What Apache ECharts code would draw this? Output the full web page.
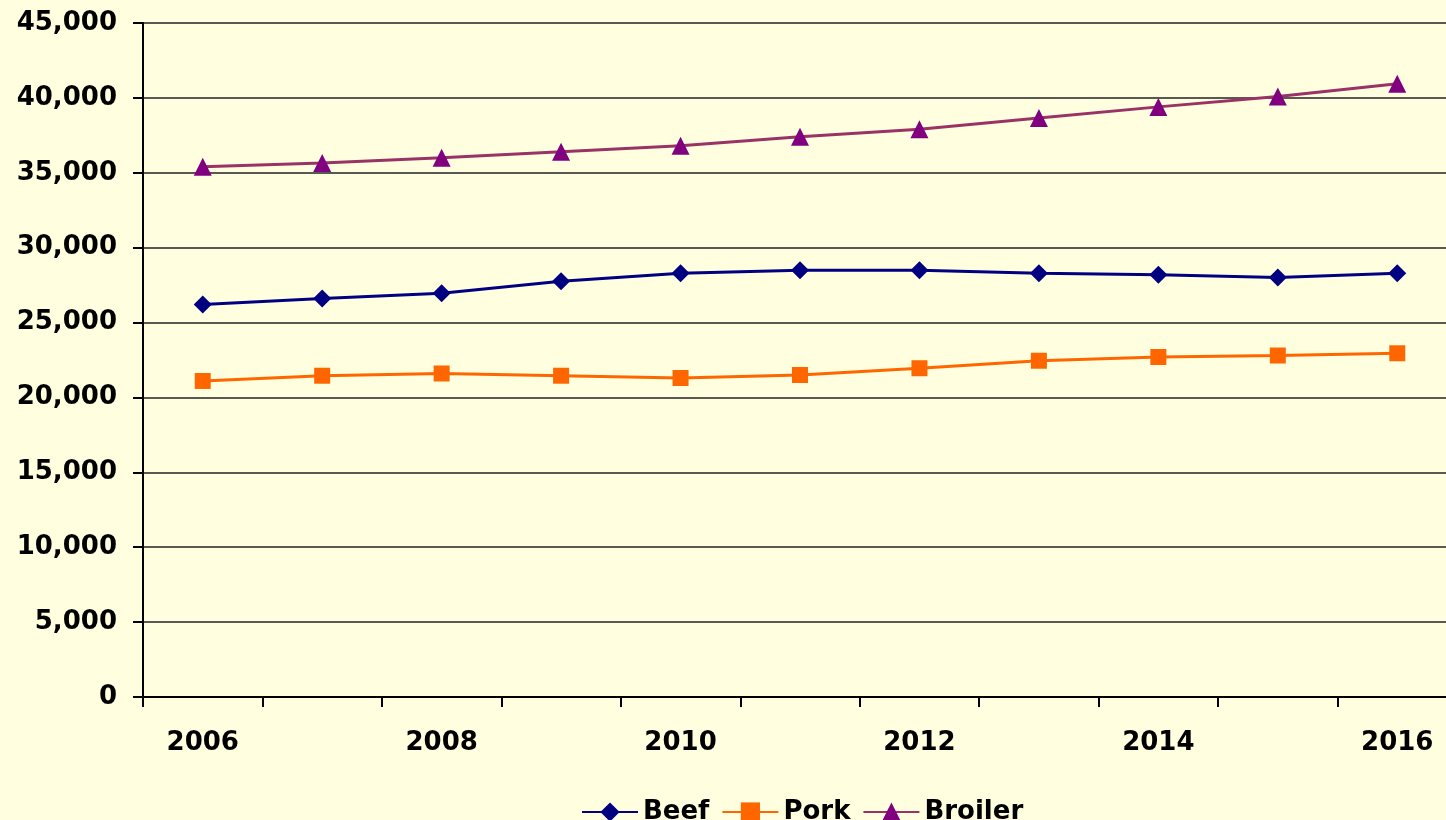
<!DOCTYPE html>
<html>
<head>
<meta charset="utf-8">
<script src="https://cdn.jsdelivr.net/npm/echarts@6/dist/echarts.min.js"></script>
<style>
  html, body { margin: 0; padding: 0; background: #FFFFE0; overflow: hidden; }
  /* plot runs a little past the right edge of the window, as in the original */
  #chart { width: 1457px; height: 820px; }
</style>
</head>
<body>
<div id="chart"></div>
<script>
// categories
var years = ['2006', '2007', '2008', '2009', '2010', '2011', '2012', '2013', '2014', '2015', '2016'];

// series values
var beef = [26200, 26600, 26950, 27750, 28300, 28500, 28500, 28300, 28200, 28000, 28300];
var pork = [21100, 21450, 21600, 21450, 21300, 21500, 21950, 22450, 22700, 22800, 22950];
var broiler = [35400, 35650, 36000, 36400, 36800, 37400, 37900, 38650, 39400, 40100, 40950];

var chartDom = document.getElementById('chart');
var myChart = echarts.init(chartDom);
var option;

var font = 'DejaVu Sans';

option = {
    backgroundColor: '#FFFFE0',
    animation: false,
    textStyle: { fontFamily: font },
    grid: {
        left: 143,
        top: 23,
        right: 0,
        bottom: 123
    },
    legend: {
        top: 794,
        left: 576,
        itemWidth: 56,
        itemHeight: 24,
        itemGap: 12,
        textStyle: {
            color: '#000',
            fontFamily: font,
            fontWeight: 'bold',
            fontSize: 26
        },
        data: ['Beef', 'Pork', 'Broiler']
    },
    xAxis: {
        type: 'category',
        data: years,
        boundaryGap: true,
        axisLine: { lineStyle: { color: '#000', width: 2 } },
        axisTick: {
            show: true,
            interval: 0,
            length: 10,
            lineStyle: { color: '#000', width: 2 }
        },
        axisLabel: {
            interval: 1,
            margin: 33,
            color: '#000',
            fontFamily: font,
            fontWeight: 'bold',
            fontSize: 26
        },
        splitLine: { show: false }
    },
    yAxis: {
        type: 'value',
        min: 0,
        max: 45000,
        interval: 5000,
        axisLine: { show: true, lineStyle: { color: '#000', width: 2 } },
        axisTick: {
            show: true,
            length: 10,
            lineStyle: { color: '#000', width: 2 }
        },
        axisLabel: {
            margin: 26,
            color: '#000',
            fontFamily: font,
            fontWeight: 'bold',
            fontSize: 26,
            formatter: function (v) {
                return v.toString().replace(/\B(?=(\d{3})+(?!\d))/g, ',');
            }
        },
        splitLine: { show: true, lineStyle: { color: '#222', width: 1.5 } }
    },
    series: [
        {
            name: 'Beef',
            type: 'line',
            data: beef,
            symbol: 'diamond',
            symbolSize: 18,
            showAllSymbol: true,
            itemStyle: { color: '#000080' },
            lineStyle: { color: '#000080', width: 3 }
        },
        {
            name: 'Pork',
            type: 'line',
            data: pork,
            symbol: 'rect',
            symbolSize: 16,
            showAllSymbol: true,
            itemStyle: { color: '#FF6600' },
            lineStyle: { color: '#FF6600', width: 3 }
        },
        {
            name: 'Broiler',
            type: 'line',
            data: broiler,
            symbol: 'triangle',
            symbolSize: 18,
            showAllSymbol: true,
            itemStyle: { color: '#800080' },
            lineStyle: { color: '#993366', width: 3 }
        }
    ]
};

option && myChart.setOption(option);
</script>
</body>
</html>
